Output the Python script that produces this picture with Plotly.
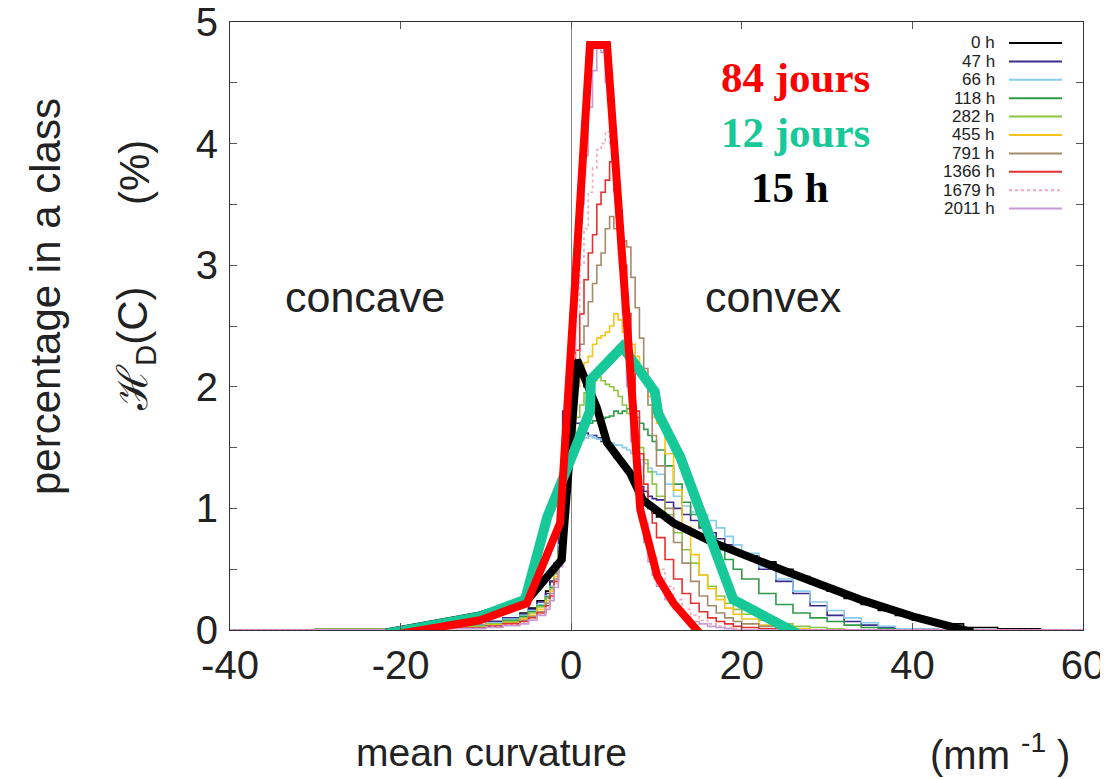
import plotly.graph_objects as go

# bin left edges (mm^-1)
BIN_X = [-40, -30, -20, -15, -10, -8, -6, -5, -4, -3,
         -2.5, -2, -1.5, -1, -0.5, 0, 0.5, 1, 1.5, 2,
         2.5, 3, 3.5, 4, 4.5, 5, 5.5, 6, 6.5, 7,
         7.5, 8, 8.5, 9, 9.5, 10, 11, 12, 13, 14,
         15, 16, 17, 18, 19, 20, 22, 24, 26, 28,
         30, 32, 34, 36, 38, 40, 43, 46, 50, 55, 60]

H_0 = [0, 0.005, 0.02, 0.04, 0.07, 0.1, 0.14, 0.18, 0.24, 0.32,
       0.4, 0.52, 0.68, 0.95, 1.45, 2.1, 2.2, 2.1, 2.0, 1.9,
       1.8, 1.72, 1.62, 1.55, 1.5, 1.45, 1.4, 1.35, 1.3, 1.25,
       1.18, 1.12, 1.06, 1.0, 0.96, 0.93, 0.9, 0.86, 0.82, 0.79,
       0.76, 0.73, 0.7, 0.67, 0.64, 0.61, 0.56, 0.5, 0.44, 0.38,
       0.32, 0.26, 0.21, 0.16, 0.12, 0.08, 0.05, 0.02, 0.01, 0, 0]
H_47 = [0, 0.005, 0.02, 0.04, 0.07, 0.1, 0.13, 0.17, 0.23, 0.3,
        0.4, 0.55, 1.1, 1.8, 1.85, 1.75, 1.7, 1.65, 1.62, 1.6,
        1.6, 1.58, 1.55, 1.52, 1.48, 1.42, 1.38, 1.35, 1.3, 1.26,
        1.22, 1.18, 1.14, 1.1, 1.08, 1.07, 1.05, 1.0, 0.95, 0.9,
        0.84, 0.8, 0.75, 0.7, 0.64, 0.6, 0.5, 0.4, 0.3, 0.2,
        0.12, 0.07, 0.04, 0.02, 0.01, 0.005, 0, 0, 0, 0, 0]
H_66 = [0, 0.005, 0.02, 0.04, 0.06, 0.09, 0.12, 0.16, 0.21, 0.28,
        0.36, 0.48, 0.7, 1.0, 1.3, 1.45, 1.52, 1.56, 1.58, 1.6,
        1.58, 1.57, 1.56, 1.55, 1.54, 1.52, 1.52, 1.5, 1.48, 1.45,
        1.42, 1.4, 1.37, 1.33, 1.3, 1.28, 1.2, 1.1, 1.02, 0.97,
        0.95, 0.9, 0.84, 0.77, 0.7, 0.63, 0.52, 0.42, 0.32, 0.23,
        0.16, 0.1, 0.06, 0.03, 0.01, 0.005, 0, 0, 0, 0, 0]
H_118 = [0, 0.005, 0.015, 0.03, 0.05, 0.08, 0.11, 0.15, 0.2, 0.27,
         0.35, 0.47, 0.65, 0.95, 1.3, 1.5, 1.6, 1.65, 1.68, 1.7,
         1.72, 1.72, 1.74, 1.75, 1.76, 1.8, 1.78, 1.8, 1.82, 1.78,
         1.75, 1.7, 1.65, 1.6, 1.55, 1.48, 1.35, 1.2, 1.05, 0.95,
         0.85, 0.76, 0.66, 0.58, 0.5, 0.42, 0.3, 0.21, 0.14, 0.1,
         0.07, 0.04, 0.02, 0.01, 0, 0, 0, 0, 0, 0, 0]
H_282 = [0, 0.005, 0.015, 0.03, 0.05, 0.07, 0.1, 0.14, 0.19, 0.26,
         0.34, 0.46, 0.65, 0.95, 1.35, 1.6, 1.75, 1.85, 1.95, 2.0,
         2.05, 2.08, 2.05, 2.02, 2.0, 1.97, 1.92, 1.85, 1.78, 1.7,
         1.6, 1.5, 1.4, 1.3, 1.2, 1.1, 0.95, 0.8, 0.66, 0.55,
         0.45, 0.36, 0.28, 0.22, 0.17, 0.13, 0.08, 0.05, 0.03, 0.02,
         0.01, 0, 0, 0, 0, 0, 0, 0, 0, 0, 0]
H_455 = [0, 0.003, 0.01, 0.02, 0.04, 0.06, 0.09, 0.12, 0.17, 0.24,
         0.32, 0.44, 0.62, 0.95, 1.4, 1.75, 2.0, 2.1, 2.2, 2.25,
         2.35, 2.4, 2.42, 2.45, 2.5, 2.6, 2.55, 2.45, 2.4, 2.35,
         2.25, 2.15, 2.05, 1.92, 1.75, 1.7, 1.45, 1.15, 0.85, 0.62,
         0.45, 0.34, 0.25, 0.18, 0.13, 0.09, 0.04, 0.02, 0.01, 0,
         0, 0, 0, 0, 0, 0, 0, 0, 0, 0, 0]
H_791 = [0, 0.003, 0.01, 0.02, 0.035, 0.055, 0.08, 0.11, 0.15, 0.22,
         0.3, 0.42, 0.6, 0.95, 1.4, 1.8, 2.1, 2.35, 2.5, 2.7,
         2.85, 3.0, 3.1, 3.3, 3.4, 3.3, 3.25, 3.2, 3.15, 2.9,
         2.65, 2.4, 2.15, 1.85, 1.6, 1.35, 1.0, 0.72, 0.55, 0.4,
         0.28, 0.2, 0.14, 0.1, 0.07, 0.05, 0.03, 0.01, 0, 0,
         0, 0, 0, 0, 0, 0, 0, 0, 0, 0, 0]
H_1366 = [0, 0.002, 0.008, 0.015, 0.03, 0.05, 0.07, 0.1, 0.14, 0.2,
          0.28, 0.4, 0.58, 0.9, 1.4, 1.9, 2.3, 2.6, 2.88, 3.1,
          3.25, 3.5, 3.6, 3.7, 3.85, 3.6, 3.3, 3.0, 2.6, 2.2,
          1.8, 1.45, 1.2, 1.02, 0.88, 0.76, 0.58, 0.42, 0.3, 0.22,
          0.15, 0.1, 0.07, 0.05, 0.03, 0.02, 0.01, 0, 0, 0,
          0, 0, 0, 0, 0, 0, 0, 0, 0, 0, 0]
H_1679 = [0, 0.002, 0.006, 0.012, 0.025, 0.04, 0.06, 0.09, 0.13, 0.18,
          0.26, 0.38, 0.56, 0.9, 1.5, 2.1, 2.6, 3.0, 3.3, 3.6,
          3.8, 3.95, 4.0, 4.1, 4.0, 3.6, 3.1, 2.6, 2.1, 1.7,
          1.35, 1.08, 0.88, 0.72, 0.6, 0.5, 0.36, 0.25, 0.17, 0.12,
          0.08, 0.05, 0.03, 0.02, 0.01, 0, 0, 0, 0, 0,
          0, 0, 0, 0, 0, 0, 0, 0, 0, 0, 0]
H_2011 = [0, 0.002, 0.005, 0.01, 0.02, 0.035, 0.05, 0.08, 0.12, 0.17,
          0.24, 0.35, 0.52, 0.85, 1.5, 2.3, 3.0, 3.5, 3.9, 4.3,
          4.6, 4.78, 4.75, 4.5, 4.2, 3.8, 3.2, 2.6, 2.0, 1.55,
          1.2, 0.92, 0.72, 0.56, 0.45, 0.36, 0.25, 0.17, 0.11, 0.07,
          0.05, 0.03, 0.02, 0.01, 0, 0, 0, 0, 0, 0,
          0, 0, 0, 0, 0, 0, 0, 0, 0, 0, 0]

SERIES_NAMES = ["0 h", "47 h", "66 h", "118 h", "282 h", "455 h",
                "791 h", "1366 h", "1679 h", "2011 h"]
SERIES_VALUES = [H_0, H_47, H_66, H_118, H_282, H_455, H_791, H_1366, H_1679, H_2011]
SERIES_COLORS = ["#000000", "#3a2c8c", "#87cbee", "#2e9a4a", "#8cc640", "#f5c51e",
                 "#a38b6b", "#e33232", "#f4a6b8", "#c79ad6"]
SERIES_DASH = ["solid"] * 8 + ["dot", "solid"]

# hand-drawn envelopes
BLACK_X = [-21.7, -10.7, -5.2, -1.1, -0.9, 0.7, 3.0, 4.2, 6.9, 8.4, 12.0, 16.6, 24.9, 33.9, 40.1, 47.1]
BLACK_Y = [-0.02, 0.12, 0.24, 0.58, 0.78, 2.22, 1.83, 1.54, 1.29, 1.07, 0.88, 0.72, 0.49, 0.25, 0.11, -0.02]
TEAL_X = [-21.7, -10.7, -5.4, -2.8, 0.5, 2.2, 2.3, 6.0, 9.8, 10.2, 12.8, 15.1, 19.0, 26.5]
TEAL_Y = [-0.03, 0.11, 0.25, 0.93, 1.5, 1.8, 2.06, 2.33, 1.96, 1.78, 1.42, 0.99, 0.25, -0.03]
RED_X = [-21.7, -10.7, -5.2, -1.3, 2.2, 4.2, 8.1, 10.1, 12.0, 15.1]
RED_Y = [-0.05, 0.08, 0.22, 0.88, 4.81, 4.81, 0.99, 0.44, 0.22, -0.03]

X_TICKS = [-40, -20, 0, 20, 40, 60]
X_TICK_TEXT = ["-40", "-20", "0", "20", "40", "60"]
Y_TICKS = [0, 1, 2, 3, 4, 5]
Y_TICK_TEXT = ["0", "1", "2", "3", "4", "5"]

fig = go.Figure()
for name, vals, col, dash in zip(SERIES_NAMES, SERIES_VALUES, SERIES_COLORS, SERIES_DASH):
    fig.add_trace(go.Scatter(x=BIN_X, y=vals, mode="lines", name=name,
                             line=dict(color=col, width=1.6, shape="hv", dash=dash),
                             showlegend=False))

fig.add_trace(go.Scatter(x=BLACK_X, y=BLACK_Y, mode="lines", name="15 h",
                         line=dict(color="#000000", width=8), showlegend=False))
fig.add_trace(go.Scatter(x=TEAL_X, y=TEAL_Y, mode="lines", name="12 jours",
                         line=dict(color="#17c898", width=10), showlegend=False))
fig.add_trace(go.Scatter(x=RED_X, y=RED_Y, mode="lines", name="84 jours",
                         line=dict(color="#ff0000", width=8), showlegend=False))

FONT = "Liberation Sans, Arial, sans-serif"
SERIF = "Liberation Serif, Times New Roman, serif"
annotations = []
shapes = []

# target plot-area box in window pixels
PLOT_L, PLOT_R, PLOT_T, PLOT_B = 230, 1083, 22, 630
def px(xp):
    return (xp - PLOT_L) / (PLOT_R - PLOT_L)
def py(yp):
    return (PLOT_B - yp) / (PLOT_B - PLOT_T)

# custom legend (text left of the line sample)
for i, (name, col, dash) in enumerate(zip(SERIES_NAMES, SERIES_COLORS, SERIES_DASH)):
    yrow = 43 + i * 18.4
    annotations.append(dict(x=px(997), y=py(yrow), xref="paper", yref="paper",
                            text=name, showarrow=False, xanchor="right", yanchor="middle",
                            font=dict(family=FONT, size=17, color="#222222")))
    shapes.append(dict(type="line", xref="paper", yref="paper",
                       x0=px(1009), x1=px(1062), y0=py(yrow), y1=py(yrow),
                       line=dict(color=col, width=2, dash=dash)))

def label(xp, yp, text, size=43, color="#222222", family=FONT, angle=0):
    return dict(x=px(xp), y=py(yp), xref="paper", yref="paper", text=text,
                showarrow=False, xanchor="center", yanchor="middle", textangle=angle,
                font=dict(family=family, size=size, color=color))

annotations += [
    label(795, 77, "<b>84 jours</b>", color="#ff0000", family=SERIF),
    label(795, 132, "<b>12 jours</b>", color="#17c898", family=SERIF),
    label(790, 187, "<b>15 h</b>", color="#000000", family=SERIF),
    label(365, 297, "concave"),
    label(773, 297, "convex"),
    label(45, 297, "percentage in a class", size=42, angle=-90),
    label(135, 173, "(%)", size=42, angle=-90),
    label(135, 349, "ℋ<sub>D</sub>(C)", size=42, angle=-90),
    label(491, 752, "mean curvature", size=39),
    label(1000, 752, "(mm <sup>-1</sup> )", size=40),
]

# page body has an 8px margin, so the figure is drawn 8px in from the window edge
fig.update_layout(
    width=1100, height=771,
    margin=dict(l=222, r=25, t=14, b=149, autoexpand=False),
    paper_bgcolor="white", plot_bgcolor="white",
    showlegend=False,
    annotations=annotations, shapes=shapes,
    xaxis=dict(range=[-40, 60], tickvals=X_TICKS, ticktext=X_TICK_TEXT,
               ticks="inside", ticklen=7, automargin=False, ticklabeloverflow="allow",
               showline=True, mirror="ticks", linecolor="#333333", linewidth=1.2,
               tickcolor="#555555", showgrid=False,
               zeroline=True, zerolinecolor="#888888", zerolinewidth=1.2,
               tickfont=dict(family=FONT, size=40, color="#222222"),
               ticklabelstandoff=0),
    yaxis=dict(range=[0, 5], tickvals=Y_TICKS, ticktext=Y_TICK_TEXT,
               ticks="inside", ticklen=7, automargin=False, ticklabeloverflow="allow",
               showline=True, mirror="ticks", linecolor="#333333", linewidth=1.2,
               tickcolor="#555555", showgrid=False, zeroline=False,
               minor=dict(dtick=0.5, ticks="inside", ticklen=7, tickcolor="#555555"),
               tickfont=dict(family=FONT, size=40, color="#222222"),
               ticklabelstandoff=3),
)

fig.write_html("out.html")
